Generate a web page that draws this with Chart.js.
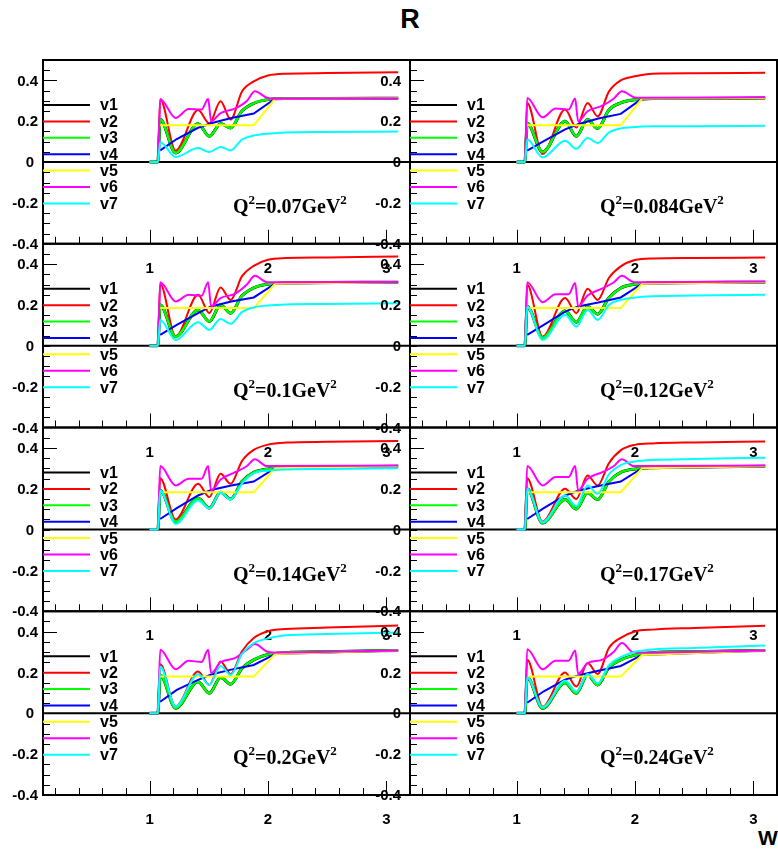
<!DOCTYPE html>
<html>
<head>
<meta charset="utf-8">
<script src="https://cdn.jsdelivr.net/npm/chart.js@4/dist/chart.umd.min.js"></script>
<style>
  body { margin: 0; background: #fff; }
  #wrap { position: relative; width: 778px; height: 855px; overflow: hidden; background: #fff; }
  #wrap canvas { position: absolute; }
  .txt { position: absolute; font-family: 'Liberation Sans', Arial, sans-serif; font-weight: bold; white-space: nowrap; }
  #title { left: 0; width: 820px; text-align: center; top: 6px; font-size: 27px; line-height: 27px; }
  #wlab { left: 758px; top: 827px; font-size: 21px; line-height: 21px; }
</style>
</head>
<body>
<div id="wrap">
  <div class="txt" id="title">R</div>
  <div class="txt" id="wlab">W</div>
</div>
<script>
// Q^2 value of each pad, row by row (left, right)
const panelQ2 = ['0.07', '0.084', '0.1', '0.12', '0.14', '0.17', '0.2', '0.24'];
const seriesNames = ['v1', 'v2', 'v3', 'v4', 'v5', 'v6', 'v7'];
const seriesColors = ['#000000', '#ff0000', '#00ff00', '#0000ff', '#ffff00', '#ff00ff', '#00ffff'];
const yTickValues = [0.4, 0.2, 0, -0.2, -0.4];
const yTickLabels = ['0.4', '0.2', '0', '-0.2', '-0.4'];
const xTickValues = [1, 2, 3];
const xTickLabels = ['1', '2', '3'];

// W grids (GeV)
const wRes = [1.0, 1.07, 1.09, 1.22, 1.41, 1.505, 1.60, 1.685, 1.78, 1.88, 2.0, 2.15, 2.5, 3.1];
const wV6  = [1.0, 1.07, 1.09, 1.22, 1.33, 1.44, 1.495, 1.52, 1.60, 1.72, 1.82, 1.89, 1.99, 2.05, 3.1];
const wV4  = [1.09, 1.23, 1.41, 1.52, 1.69, 1.88, 2.06, 3.1];
const wV5  = [1.08, 1.88, 2.06, 3.1];

// v1 (on grid wRes), one row per pad
const v1 = [
  [0, 0, 0.21, 0.044, 0.188, 0.126, 0.188, 0.167, 0.25, 0.288, 0.306, 0.311, 0.312, 0.313],
  [0, 0, 0.19, 0.049, 0.200, 0.126, 0.208, 0.164, 0.255, 0.290, 0.305, 0.311, 0.312, 0.314],
  [0, 0, 0.20, 0.045, 0.176, 0.119, 0.200, 0.160, 0.245, 0.284, 0.302, 0.308, 0.310, 0.312],
  [0, 0, 0.193, 0.040, 0.171, 0.116, 0.193, 0.155, 0.235, 0.283, 0.302, 0.308, 0.310, 0.312],
  [0, 0, 0.191, 0.039, 0.154, 0.106, 0.183, 0.150, 0.235, 0.280, 0.297, 0.303, 0.306, 0.310],
  [0, 0, 0.20, 0.032, 0.147, 0.101, 0.180, 0.147, 0.235, 0.280, 0.297, 0.303, 0.306, 0.310],
  [0, 0, 0.188, 0.025, 0.155, 0.098, 0.175, 0.143, 0.220, 0.262, 0.288, 0.297, 0.302, 0.308],
  [0, 0, 0.177, 0.025, 0.150, 0.098, 0.188, 0.139, 0.225, 0.262, 0.285, 0.297, 0.302, 0.308]
];
// v2 (on grid wRes)
const v2 = [
  [0, 0, 0.308, 0.056, 0.255, 0.190, 0.298, 0.208, 0.345, 0.395, 0.424, 0.433, 0.436, 0.440],
  [0, 0, 0.290, 0.040, 0.257, 0.170, 0.290, 0.224, 0.345, 0.400, 0.420, 0.433, 0.435, 0.437],
  [0, 0, 0.303, 0.045, 0.250, 0.160, 0.286, 0.225, 0.340, 0.392, 0.422, 0.430, 0.433, 0.438],
  [0, 0, 0.299, 0.045, 0.234, 0.160, 0.280, 0.225, 0.332, 0.389, 0.420, 0.428, 0.430, 0.433],
  [0, 0, 0.252, 0.049, 0.224, 0.159, 0.273, 0.224, 0.335, 0.390, 0.416, 0.426, 0.430, 0.434],
  [0, 0, 0.252, 0.039, 0.200, 0.150, 0.265, 0.216, 0.325, 0.388, 0.415, 0.422, 0.427, 0.432],
  [0, 0, 0.241, 0.033, 0.205, 0.139, 0.254, 0.192, 0.303, 0.369, 0.402, 0.413, 0.420, 0.430],
  [0, 0, 0.262, 0.033, 0.200, 0.131, 0.246, 0.193, 0.320, 0.370, 0.401, 0.410, 0.418, 0.429]
];
// v3 (on grid wRes)
const v3 = [
  [0, 0, 0.21, 0.044, 0.188, 0.126, 0.188, 0.167, 0.25, 0.288, 0.306, 0.311, 0.312, 0.313],
  [0, 0, 0.19, 0.049, 0.200, 0.126, 0.208, 0.164, 0.255, 0.290, 0.305, 0.311, 0.312, 0.314],
  [0, 0, 0.20, 0.045, 0.176, 0.119, 0.200, 0.160, 0.245, 0.284, 0.302, 0.308, 0.310, 0.312],
  [0, 0, 0.193, 0.040, 0.171, 0.116, 0.193, 0.155, 0.235, 0.283, 0.302, 0.308, 0.310, 0.312],
  [0, 0, 0.191, 0.039, 0.154, 0.106, 0.183, 0.150, 0.235, 0.280, 0.297, 0.303, 0.306, 0.310],
  [0, 0, 0.20, 0.032, 0.147, 0.101, 0.180, 0.147, 0.235, 0.280, 0.297, 0.303, 0.306, 0.310],
  [0, 0, 0.188, 0.025, 0.155, 0.098, 0.175, 0.143, 0.220, 0.262, 0.288, 0.297, 0.302, 0.308],
  [0, 0, 0.177, 0.025, 0.150, 0.098, 0.188, 0.139, 0.225, 0.262, 0.285, 0.297, 0.302, 0.308]
];
// v4 (on grid wV4)
const v4 = [
  [0.057, 0.113, 0.168, 0.190, 0.216, 0.238, 0.310, 0.313],
  [0.056, 0.103, 0.160, 0.185, 0.213, 0.236, 0.311, 0.314],
  [0.054, 0.103, 0.160, 0.193, 0.217, 0.237, 0.304, 0.312],
  [0.054, 0.103, 0.168, 0.193, 0.212, 0.237, 0.304, 0.312],
  [0.052, 0.105, 0.167, 0.194, 0.216, 0.235, 0.301, 0.310],
  [0.052, 0.105, 0.167, 0.190, 0.213, 0.235, 0.301, 0.310],
  [0.057, 0.115, 0.164, 0.190, 0.214, 0.237, 0.290, 0.308],
  [0.052, 0.108, 0.165, 0.185, 0.209, 0.232, 0.286, 0.308]
];
// v5 (on grid wV5)
const v5 = [
  [0.180, 0.180, 0.310, 0.313],
  [0.180, 0.180, 0.311, 0.314],
  [0.185, 0.185, 0.304, 0.312],
  [0.185, 0.185, 0.304, 0.312],
  [0.183, 0.183, 0.301, 0.310],
  [0.183, 0.183, 0.301, 0.310],
  [0.180, 0.180, 0.290, 0.308],
  [0.180, 0.180, 0.286, 0.308]
];
// v6 (on grid wV6)
const v6 = [
  [0, 0, 0.308, 0.216, 0.260, 0.257, 0.310, 0.200, 0.240, 0.262, 0.298, 0.347, 0.315, 0.310, 0.312],
  [0, 0, 0.314, 0.219, 0.262, 0.257, 0.311, 0.200, 0.249, 0.275, 0.310, 0.347, 0.318, 0.315, 0.318],
  [0, 0, 0.312, 0.217, 0.250, 0.245, 0.312, 0.193, 0.234, 0.254, 0.299, 0.343, 0.312, 0.311, 0.313],
  [0, 0, 0.312, 0.214, 0.253, 0.253, 0.308, 0.193, 0.247, 0.280, 0.310, 0.343, 0.312, 0.311, 0.315],
  [0, 0, 0.311, 0.216, 0.249, 0.249, 0.311, 0.191, 0.245, 0.280, 0.310, 0.344, 0.311, 0.311, 0.314],
  [0, 0, 0.311, 0.216, 0.257, 0.257, 0.311, 0.191, 0.249, 0.280, 0.310, 0.344, 0.311, 0.311, 0.314],
  [0, 0, 0.311, 0.216, 0.257, 0.252, 0.311, 0.197, 0.250, 0.270, 0.310, 0.339, 0.303, 0.298, 0.308],
  [0, 0, 0.314, 0.216, 0.258, 0.258, 0.308, 0.193, 0.246, 0.262, 0.300, 0.344, 0.298, 0.298, 0.308]
];
// v7 (on grid wRes)
const v7 = [
  [0, 0, 0.097, 0.025, 0.069, 0.049, 0.074, 0.057, 0.110, 0.130, 0.139, 0.145, 0.147, 0.150],
  [0, 0, 0.110, 0.023, 0.105, 0.065, 0.118, 0.093, 0.145, 0.165, 0.172, 0.175, 0.176, 0.178],
  [0, 0, 0.127, 0.029, 0.116, 0.078, 0.132, 0.108, 0.165, 0.188, 0.198, 0.203, 0.205, 0.209],
  [0, 0, 0.193, 0.029, 0.152, 0.094, 0.176, 0.127, 0.200, 0.225, 0.237, 0.243, 0.246, 0.250],
  [0, 0, 0.191, 0.028, 0.142, 0.104, 0.180, 0.147, 0.225, 0.275, 0.288, 0.294, 0.297, 0.301],
  [0, 0, 0.200, 0.036, 0.167, 0.114, 0.216, 0.175, 0.270, 0.316, 0.333, 0.341, 0.346, 0.352],
  [0, 0, 0.229, 0.033, 0.192, 0.139, 0.232, 0.188, 0.290, 0.344, 0.366, 0.382, 0.388, 0.396],
  [0, 0, 0.177, 0.030, 0.160, 0.106, 0.193, 0.147, 0.235, 0.275, 0.302, 0.313, 0.320, 0.332]
];

const seriesValues = [v1, v2, v3, v4, v5, v6, v7];
const seriesGrids = [wRes, wRes, wRes, wV4, wV5, wV6, wRes];
const seriesWidths = [3, 2, 2.5, 2, 2, 2, 2];

// pad geometry
const colLeft = [43, 410], colRight = [410, 777];
const rowTop0 = 60, rowH = 183.75;
const padL = 45, padR = 3, padB = 40;

const SANS = "'Liberation Sans', Arial, Helvetica, sans-serif";
const SERIF = "'Liberation Serif', 'Times New Roman', serif";

const padDecor = {
  id: 'padDecor',
  beforeDatasetsDraw(chart) {
    const { ctx, chartArea: a, scales } = chart;
    const y0 = scales.y.getPixelForValue(0);
    ctx.save();
    ctx.strokeStyle = '#000';
    ctx.lineWidth = 2;
    ctx.beginPath();
    ctx.moveTo(a.left, y0);
    ctx.lineTo(a.right, y0);
    ctx.stroke();
    ctx.restore();
  },
  afterDatasetsDraw(chart, args, opts) {
    const { ctx, chartArea: a, scales: { x, y } } = chart;
    ctx.save();
    ctx.strokeStyle = '#000';
    ctx.lineWidth = 1;
    ctx.beginPath();
    // y ticks every 0.05 inside the frame
    for (let k = -7; k <= 9; k++) {
      const py = Math.round(y.getPixelForValue(k * 0.05)) + 0.5;
      const len = (k === 8) ? 14 : 7;
      ctx.moveTo(a.left, py);
      ctx.lineTo(a.left + len, py);
    }
    // x ticks every 0.2, long ones at integers
    for (let k = 1; k <= 15; k++) {
      const px = Math.round(x.getPixelForValue(k * 0.2)) + 0.5;
      const len = (k % 5 === 0) ? 14 : 7;
      ctx.moveTo(px, a.bottom);
      ctx.lineTo(px, a.bottom - len);
    }
    ctx.stroke();

    // frame
    ctx.lineWidth = 2;
    ctx.strokeRect(a.left, a.top, a.right - a.left, a.bottom - a.top);

    // y labels
    ctx.fillStyle = '#000';
    ctx.font = 'bold 15px ' + SANS;
    ctx.textAlign = 'right';
    ctx.textBaseline = 'middle';
    yTickValues.forEach((v, i) => {
      const off = (opts.col === 0 && v !== 0) ? 5 : 9;
      ctx.fillText(yTickLabels[i], a.left - off, y.getPixelForValue(v) + 1);
    });
    // x labels
    ctx.textAlign = 'center';
    xTickValues.forEach((v, i) => {
      ctx.fillText(xTickLabels[i], x.getPixelForValue(v), a.bottom + 25);
    });

    // legend
    chart.data.datasets.forEach((ds, i) => {
      const ly = a.top + 45 + i * 16.4;
      ctx.strokeStyle = ds.borderColor;
      ctx.lineWidth = 2;
      ctx.beginPath();
      ctx.moveTo(a.left, ly);
      ctx.lineTo(a.left + 47, ly);
      ctx.stroke();
      ctx.fillStyle = '#000';
      ctx.font = 'bold 16px ' + SANS;
      ctx.textAlign = 'left';
      ctx.textBaseline = 'middle';
      ctx.fillText(ds.label, a.left + 57, ly + 1);
    });

    // Q^2 caption
    ctx.textAlign = 'left';
    ctx.textBaseline = 'alphabetic';
    const big = 'bold 20px ' + SERIF, small = 'bold 13px ' + SERIF;
    const parts = [['Q', big, 0], ['2', small, -9], ['=' + opts.q2 + 'GeV', big, 0], ['2', small, -9]];
    let tx = a.left + 190;
    const base = a.top + 153;
    for (const [t, f, dy] of parts) {
      ctx.font = f;
      ctx.fillText(t, tx, base + dy);
      tx += ctx.measureText(t).width;
    }
    ctx.restore();
  }
};

const wrap = document.getElementById('wrap');
for (let p = 0; p < 8; p++) {
  const col = p % 2, row = Math.floor(p / 2);
  const fL = colLeft[col], fR = colRight[col];
  const fT = rowTop0 + row * rowH, fB = fT + rowH;
  const cLeft = fL - padL;
  const cTop = Math.floor(fT) - 3;
  const cW = (fR - fL) + padL + padR;
  const cH = Math.ceil(fB - cTop) + padB;
  const cv = document.createElement('canvas');
  cv.width = cW; cv.height = cH;
  cv.style.left = cLeft + 'px';
  cv.style.top = cTop + 'px';
  cv.style.width = cW + 'px';
  cv.style.height = cH + 'px';
  wrap.appendChild(cv);

  const datasets = seriesNames.map((name, i) => {
    const grid = seriesGrids[i];
    const vals = seriesValues[i][p];
    const straight = (i === 3 || i === 4);
    return {
      label: name,
      data: grid.map((w, k) => ({ x: w, y: vals[k] })),
      borderColor: seriesColors[i],
      backgroundColor: seriesColors[i],
      borderWidth: seriesWidths[i],
      pointRadius: 0,
      fill: false,
      tension: straight ? 0 : 0.4,
      cubicInterpolationMode: straight ? 'default' : 'monotone',
      order: 7 - i
    };
  });

  new Chart(cv, {
    type: 'line',
    data: { datasets },
    options: {
      responsive: false,
      animation: false,
      devicePixelRatio: 1,
      events: [],
      layout: { padding: { left: padL, right: padR, top: fT - cTop, bottom: cH - (fB - cTop) } },
      plugins: {
        legend: { display: false },
        tooltip: { enabled: false },
        title: { display: false },
        padDecor: { col: col, q2: panelQ2[p] }
      },
      scales: {
        x: { type: 'linear', min: 0.1, max: 3.2, display: false },
        y: { type: 'linear', min: -0.4, max: 0.5, display: false }
      }
    },
    plugins: [padDecor]
  });
}
</script>
</body>
</html>
